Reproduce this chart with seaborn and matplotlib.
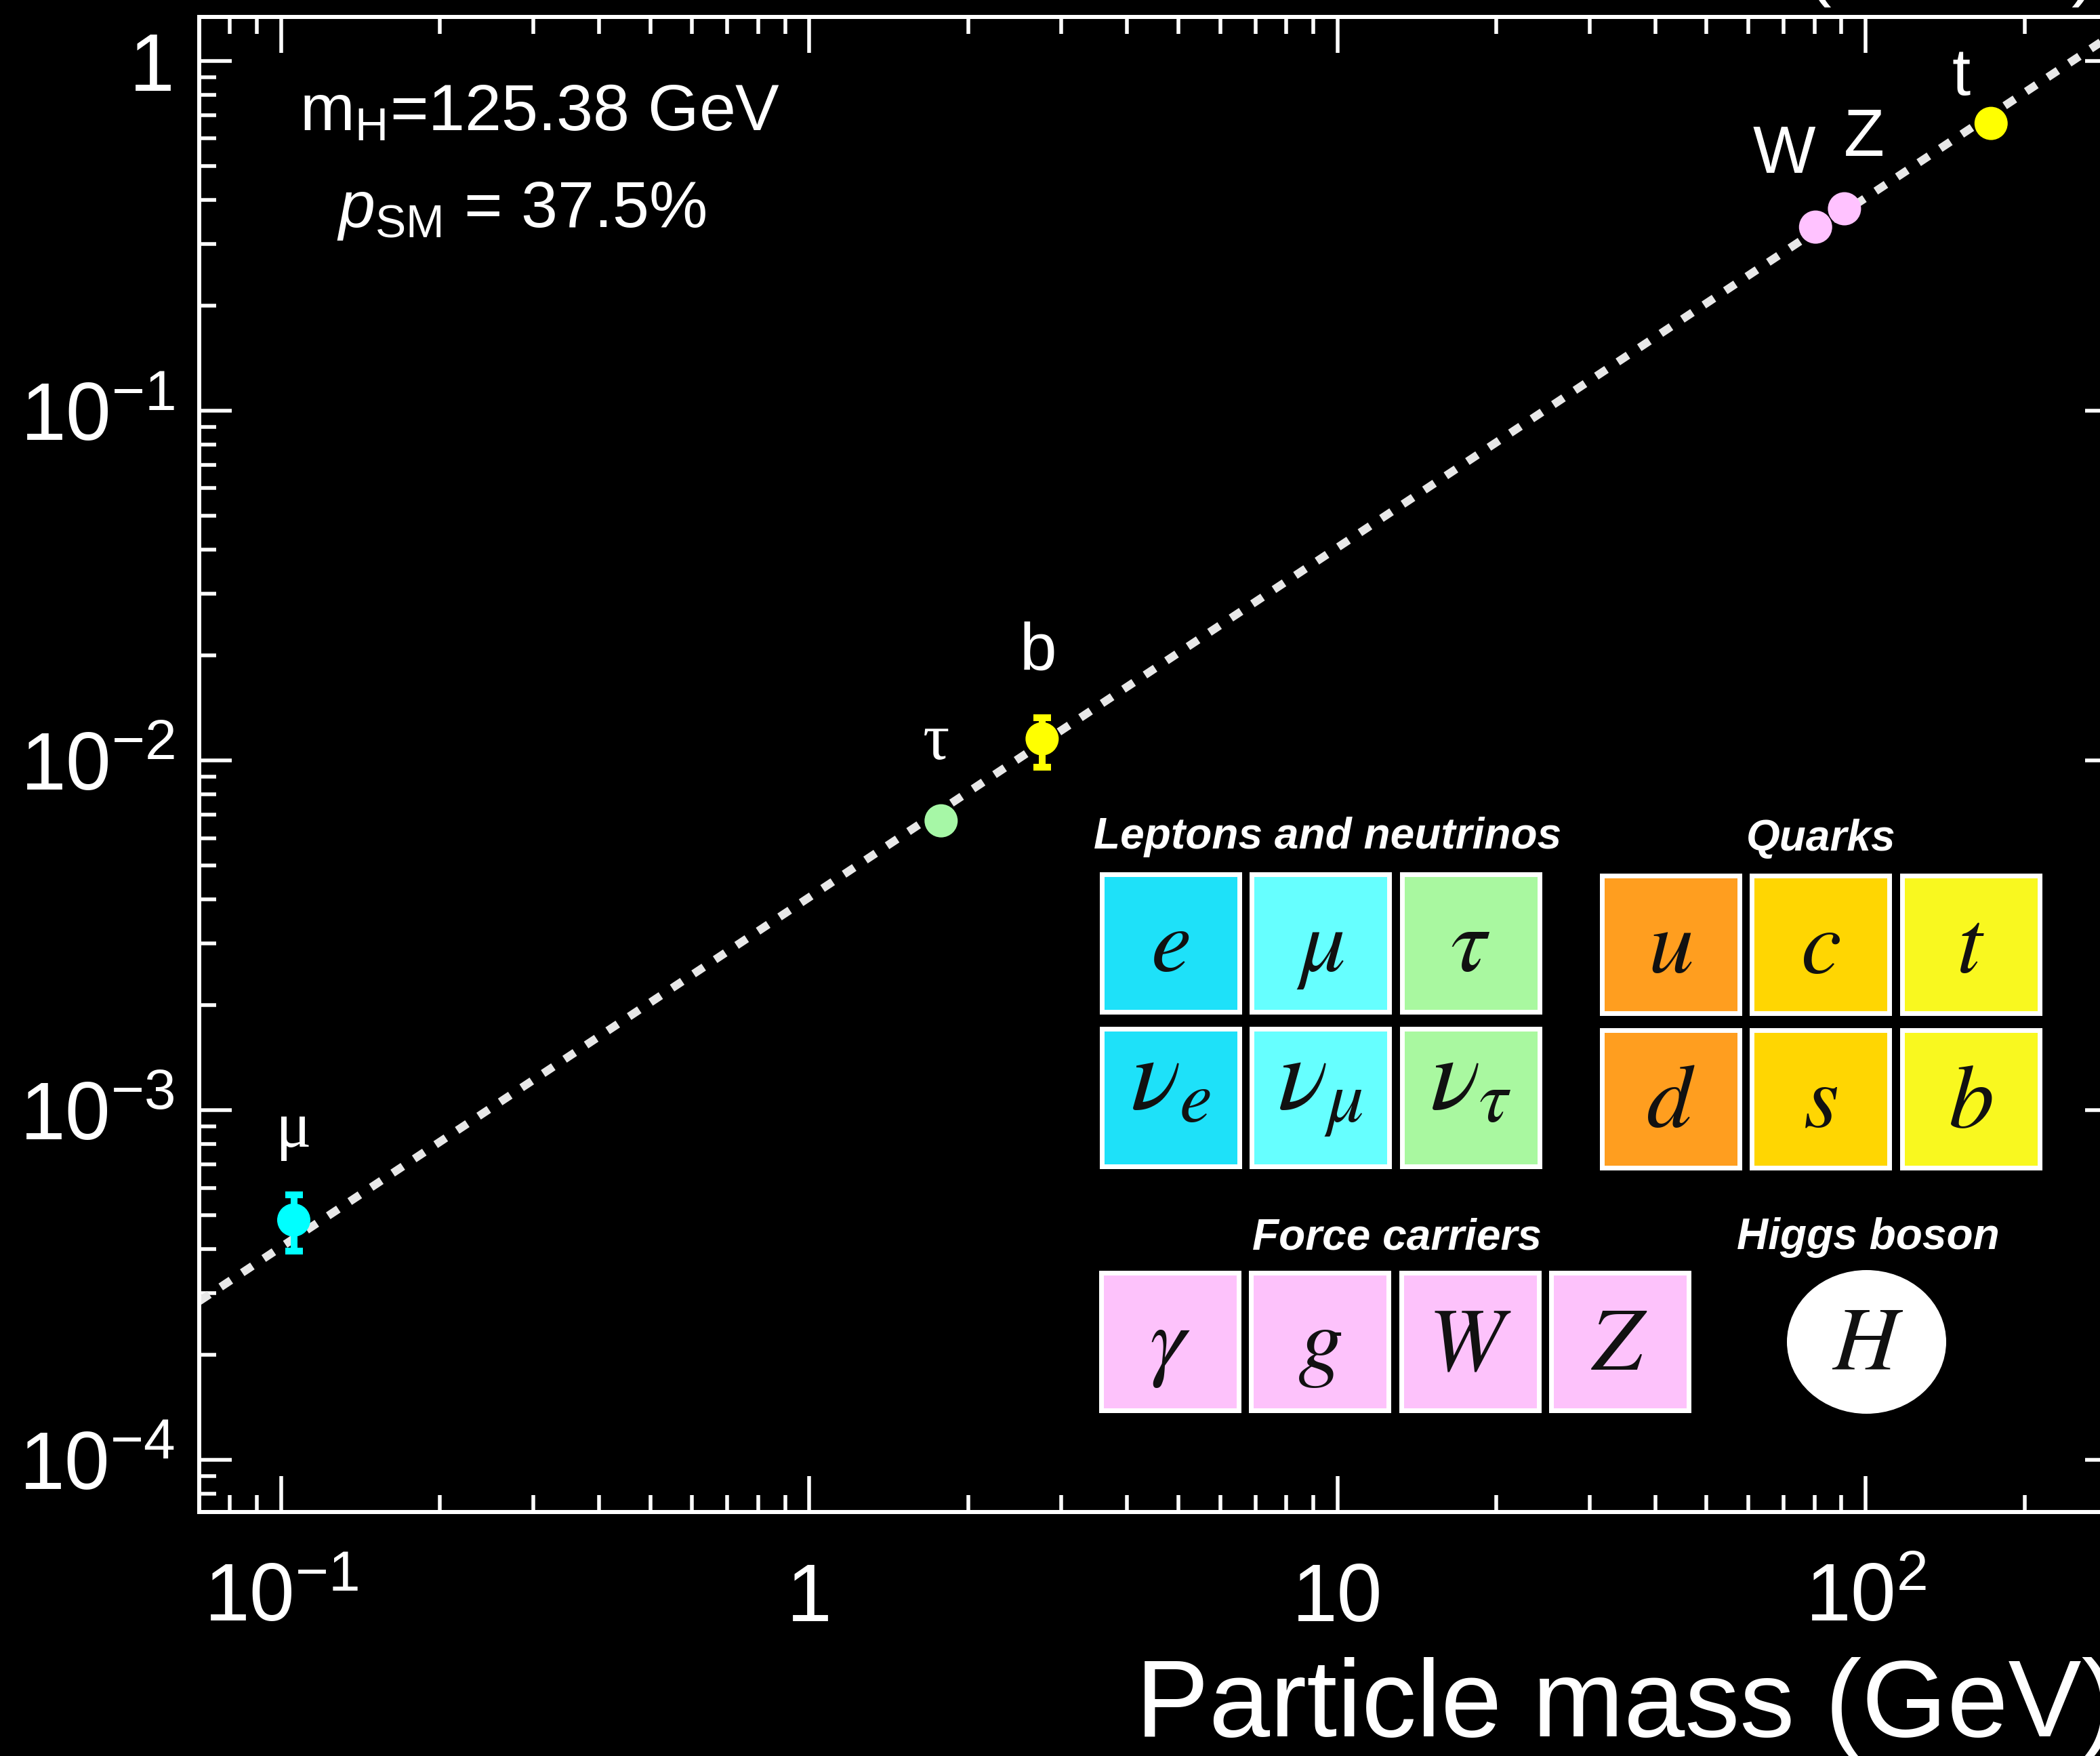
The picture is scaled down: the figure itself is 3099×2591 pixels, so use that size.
"""Higgs boson couplings versus particle mass, dark slide version."""

import matplotlib
matplotlib.use("Agg")
import matplotlib.pyplot as plt
import matplotlib.ticker as mticker
from matplotlib.patches import Ellipse, Rectangle
import pandas as pd
import seaborn as sns

# ---------------------------------------------------------------- data
particles = ["mu", "tau", "b", "W", "Z", "t"]
particle_labels = ["μ", "τ", "b", "W", "Z", "t"]
particle_mass = [0.1057, 1.777, 2.76, 80.4, 91.19, 172.8]   # GeV
coupling = [4.85e-4, 6.72e-3, 1.153e-2, 0.335, 0.378, 0.663]
particle_colors = ["#00FFFF", "#A6F7A6", "#FFFF00", "#FFC2FF", "#FFC2FF", "#FFFF00"]

err_particles = ["mu", "b"]
err_low = [3.95e-4, 9.57e-3]
err_high = [5.73e-4, 1.324e-2]

vev = 246.22                      # SM expectation: coupling = m / v
sm_mass = [0.07, 300.0]

x_ticks = [0.1, 1, 10, 100]
x_tick_labels = [r"$\mathdefault{10^{-1}}$", "1", "10", r"$\mathdefault{10^{2}}$"]
y_ticks = [1e-4, 1e-3, 1e-2, 1e-1, 1]
y_tick_labels = [r"$\mathdefault{10^{-4}}$", r"$\mathdefault{10^{-3}}$",
                 r"$\mathdefault{10^{-2}}$", r"$\mathdefault{10^{-1}}$", "1"]

lepton_symbols = [[r"$e$", r"$\mu$", r"$\tau$"],
                  [r"$\nu_e$", r"$\nu_\mu$", r"$\nu_\tau$"]]
lepton_colors = ["#1EE1F9", "#66FFFF", "#A9F8A0"]
quark_symbols = [[r"$u$", r"$c$", r"$t$"],
                 [r"$d$", r"$s$", r"$b$"]]
quark_colors = ["#FF9E1F", "#FFD602", "#F9F81F"]
force_symbols = [r"$\gamma$", r"$g$", r"$W$", r"$Z$"]
force_color = "#FDC2FB"

# ---------------------------------------------------------------- style
W_PX, H_PX, DPI = 3099, 2591, 100
PT = 72 / DPI   # points per pixel
INK = "white"

sns.set_theme(
    style="ticks",
    rc={
        "figure.facecolor": "black",
        "savefig.facecolor": "black",
        "axes.facecolor": "black",
        "axes.edgecolor": INK,
        "axes.linewidth": 6 * PT,
        "xtick.color": INK,
        "ytick.color": INK,
        "axes.labelcolor": INK,
        "text.color": INK,
    },
)
plt.rcParams["font.family"] = ["Liberation Sans", "DejaVu Sans"]
plt.rcParams["mathtext.fontset"] = "custom"
plt.rcParams["mathtext.rm"] = "Liberation Sans"
plt.rcParams["mathtext.it"] = "Liberation Sans:italic"
plt.rcParams["mathtext.bf"] = "Liberation Sans:bold"

fig = plt.figure(figsize=(W_PX / DPI, H_PX / DPI), dpi=DPI)

# axes box in pixels: left 294, right 3125 (past the edge), top 25, bottom 2231
ax_l, ax_r, ax_t, ax_b = 294, 3125, 25, 2231
ax = fig.add_axes([ax_l / W_PX, 1 - ax_b / H_PX, (ax_r - ax_l) / W_PX, (ax_b - ax_t) / H_PX])
ax.set_xscale("log")
ax.set_yscale("log")

# SM line
sm = pd.DataFrame({"mass": sm_mass, "coupling": [m / vev for m in sm_mass]})
sns.lineplot(data=sm, x="mass", y="coupling", ax=ax, color="#E8E8E8",
             linewidth=12 * PT, linestyle=(0, (1.5, 1.67)), zorder=2)

# error bars
pts = pd.DataFrame({"particle": particles, "label": particle_labels,
                    "mass": particle_mass, "coupling": coupling})
color_map = dict(zip(particles, particle_colors))
for name, lo, hi in zip(err_particles, err_low, err_high):
    row = pts[pts["particle"] == name].iloc[0]
    ax.errorbar([row["mass"]], [row["coupling"]],
                yerr=[[row["coupling"] - lo], [hi - row["coupling"]]],
                fmt="none", ecolor=color_map[name], elinewidth=10 * PT,
                capsize=13 * PT, capthick=10 * PT, zorder=3)

# measured points
sns.scatterplot(data=pts, x="mass", y="coupling", hue="particle", palette=color_map,
                s=(49 * PT) ** 2, edgecolor="none", linewidth=0, legend=False,
                ax=ax, zorder=4)

# particle names above the points (offsets in pixels)
label_offsets = {"mu": (0, 108), "tau": (-7, 91), "b": (-6, 103),
                 "W": (-46, 80), "Z": (29, 78), "t": (-44, 42)}
serif_labels = {"mu", "tau"}
for _, row in pts.iterrows():
    dx, dy = label_offsets[row["particle"]]
    fam = ["Liberation Serif", "DejaVu Serif"] if row["particle"] in serif_labels else ["Liberation Sans"]
    ax.annotate(row["label"], xy=(row["mass"], row["coupling"]),
                xytext=(dx * PT, dy * PT), textcoords="offset points",
                ha="center", va="baseline", fontsize=98 * PT, color=INK, family=fam)

# axes ranges and ticks
ax.set_xlim(0.07, 300)
ax.set_ylim(7.094e-5, 1.3365)
ax.set_xticks(x_ticks, x_tick_labels)
ax.set_yticks(y_ticks, y_tick_labels)
ax.xaxis.set_minor_locator(mticker.LogLocator(base=10, subs=range(2, 10), numticks=20))
ax.yaxis.set_minor_locator(mticker.LogLocator(base=10, subs=range(2, 10), numticks=20))
ax.xaxis.set_minor_formatter(mticker.NullFormatter())
ax.yaxis.set_minor_formatter(mticker.NullFormatter())
ax.tick_params(which="both", direction="in", top=True, right=True, width=5.5 * PT, colors=INK)
ax.tick_params(axis="x", which="major", length=53 * PT, labelsize=120 * PT, pad=161 * PT)
ax.tick_params(axis="y", which="major", length=48 * PT, labelsize=120 * PT, pad=36 * PT)
ax.tick_params(which="minor", length=25 * PT)
for lbl in ax.get_xticklabels():
    lbl.set_verticalalignment("baseline")
for side in ax.spines.values():
    side.set_color(INK)
    side.set_linewidth(6 * PT)

ax.set_ylabel("")
ax.set_xlabel("Particle mass (GeV)", fontsize=162 * PT)
ax.xaxis.label.set_horizontalalignment("right")
ax.xaxis.label.set_verticalalignment("baseline")
ax.xaxis.set_label_coords(1.0, -(2562 - ax_b) / (ax_b - ax_t))

# fit summary
ax.text((442 - ax_l) / (ax_r - ax_l), (ax_b - 193) / (ax_b - ax_t), r"m$_{\mathrm{H}}$=125.38 GeV",
        transform=ax.transAxes, ha="left", va="baseline", fontsize=97 * PT, color=INK)
ax.text((497 - ax_l) / (ax_r - ax_l), (ax_b - 335) / (ax_b - ax_t), r"$p_{\mathrm{SM}}$ = 37.5%",
        transform=ax.transAxes, ha="left", va="baseline", fontsize=97 * PT, color=INK)

# ---------------------------------------------------------------- particle table (pixel overlay)
ov = fig.add_axes([0, 0, 1, 1], zorder=5)
ov.set_xlim(0, W_PX)
ov.set_ylim(H_PX, 0)
ov.set_axis_off()
ov.patch.set_alpha(0)

BOX, BORDER, PITCH_X, PITCH_Y = 210, 7, 221.5, 228
LETTER_SIZE = 134 * PT


def draw_box(x0, y0, color, symbol):
    ov.add_patch(Rectangle((x0 + BORDER / 2, y0 + BORDER / 2), BOX - BORDER, BOX - BORDER,
                           facecolor=color, edgecolor="white", linewidth=BORDER * PT))
    is_nu = "nu" in symbol
    base = y0 + (122 if is_nu else 147)
    ov.text(x0 + BOX / 2, base, symbol, ha="center", va="baseline",
            fontsize=LETTER_SIZE * (1.15 if is_nu else 1.0),
            color="#111111", math_fontfamily="stix")


for r, row_syms in enumerate(lepton_symbols):
    for c, sym in enumerate(row_syms):
        draw_box(1622 + c * PITCH_X, 1286 + r * PITCH_Y, lepton_colors[c], sym)
for r, row_syms in enumerate(quark_symbols):
    for c, sym in enumerate(row_syms):
        draw_box(2360 + c * PITCH_X, 1288 + r * PITCH_Y, quark_colors[c], sym)
for c, sym in enumerate(force_symbols):
    draw_box(1621 + c * PITCH_X, 1874, force_color, sym)

ov.add_patch(Ellipse((2754.5, 1980), 235, 212, facecolor="white", edgecolor="none"))
ov.text(2756, 2020, r"$H$", ha="center", va="baseline", fontsize=LETTER_SIZE,
        color="#111111", math_fontfamily="stix")

group_titles = ["Leptons and neutrinos", "Quarks", "Force carriers", "Higgs boson"]
title_anchor = [(1959, 1252), (2687, 1255), (2061, 1843), (2757, 1843)]
for text, (tx, ty) in zip(group_titles, title_anchor):
    ov.text(tx, ty, text, ha="center", va="baseline", fontsize=64 * PT,
            fontweight="bold", fontstyle="italic", color=INK)

# luminosity label sitting above the frame (only its lower edge shows, as in the source)
ov.text(3088, -11, r"138 fb$^{-1}$ (13 TeV)", ha="right", va="baseline",
        fontsize=110 * PT, color=INK, clip_on=False)

fig.savefig("out.png", dpi=DPI, facecolor="black")
